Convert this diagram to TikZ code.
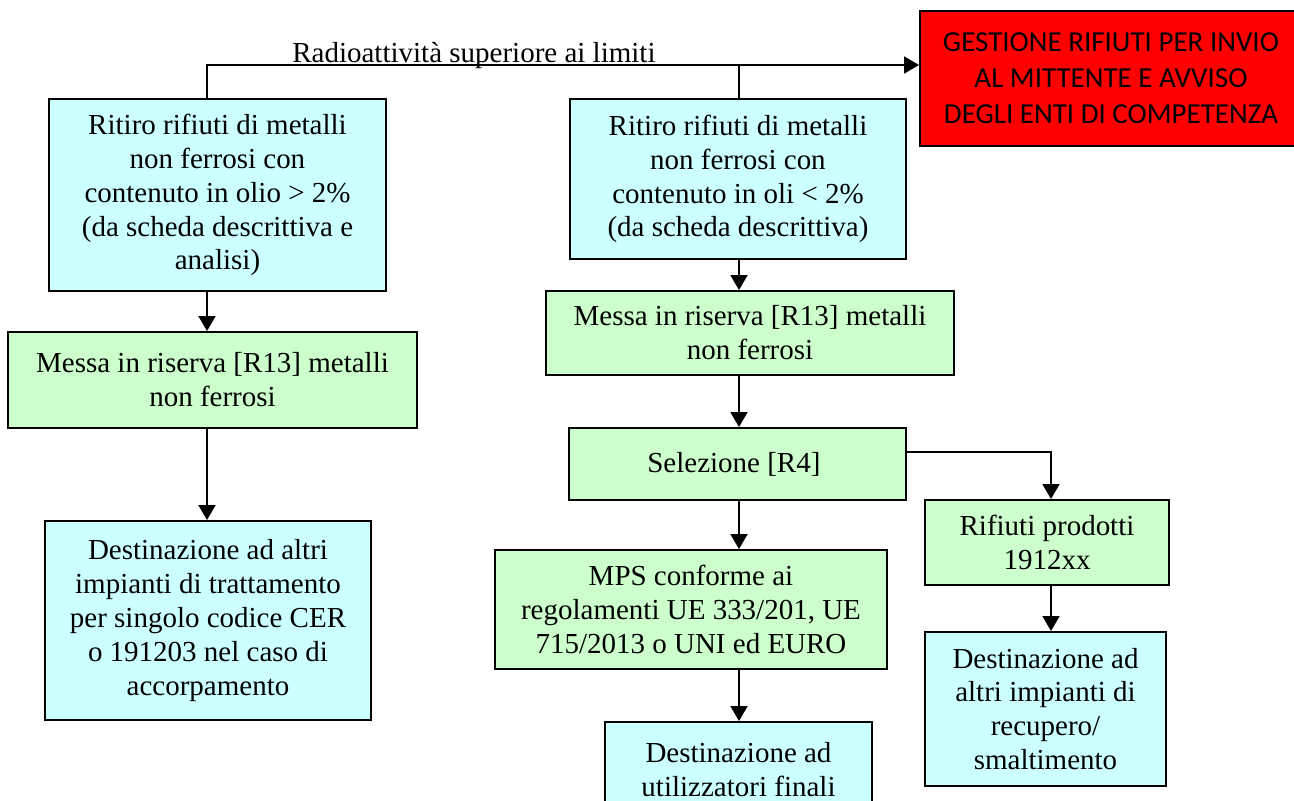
\documentclass[tikz,border=0pt]{standalone}
\usepackage{fontspec}
\setmainfont{Liberation Serif}
\newfontfamily\calibrifont{Carlito}
\usepackage{tikz}
\usepackage{xcolor}
\usetikzlibrary{arrows.meta}
\definecolor{paleCyan}{HTML}{CCFFFF}
\definecolor{paleGreen}{HTML}{CCFFCC}
\definecolor{alarmRed}{HTML}{FF0000}

\tikzset{
  flowbox/.style={draw=black, line width=1.1pt, inner sep=0pt, align=center,
    font=\fontsize{16.5}{19.3}\selectfont},
  cyanbox/.style={flowbox, fill=paleCyan},
  greenbox/.style={flowbox, fill=paleGreen},
  redbox/.style={flowbox, fill=alarmRed, font=\calibrifont\fontsize{16.5}{20.4}\selectfont},
  arr/.style={line width=1.1pt, -{Triangle[length=0.3cm, width=0.34cm]}},
  plainline/.style={line width=1.1pt}
}

\begin{document}
\begin{tikzpicture}
                \clip (0,0) rectangle (25.88,-16.02);
                % colonne dei connettori
                \coordinate (colL) at (4.14,0);
                \coordinate (colR) at (14.78,0);
                \coordinate (colF) at (21.02,0);
                \coordinate (bus) at (0,-1.30);
                \coordinate (selout) at (0,-9.04);

                \node[cyanbox, minimum width=6.74cm, minimum height=3.84cm] (ritiroOlio) at (4.35,-3.90) {
                    Ritiro rifiuti di metalli\\ non ferrosi con\\ contenuto in olio > 2\%\\ (da scheda descrittiva e\\ analisi)
                };
                \node[greenbox, minimum width=8.18cm, minimum height=1.92cm] (riservaL) at (4.25,-7.60) {
                    Messa in riserva [R13] metalli\\ non ferrosi
                };
                \node[cyanbox, minimum width=6.52cm, minimum height=3.98cm] (destTratt) at (4.16,-12.41) {
                    Destinazione ad altri\\ impianti di trattamento\\ per singolo codice CER\\ o 191203 nel caso di\\ accorpamento
                };
                \node[cyanbox, minimum width=6.72cm, minimum height=3.20cm] (ritiroOli) at (14.76,-3.58) {
                    Ritiro rifiuti di metalli\\ non ferrosi con\\ contenuto in oli < 2\%\\ (da scheda descrittiva)
                };
                \node[greenbox, minimum width=8.16cm, minimum height=1.68cm] (riservaR) at (15.00,-6.66) {
                    Messa in riserva [R13] metalli\\ non ferrosi
                };
                \node[greenbox, minimum width=6.74cm, minimum height=1.44cm] (selezione) at (14.75,-9.28) {
                    Selezione [R4]
                };
                \node[greenbox, minimum width=7.84cm, minimum height=2.38cm] (mps) at (13.82,-12.19) {
                    MPS conforme ai\\ regolamenti UE 333/201, UE\\ 715/2013 o UNI ed EURO
                };
                \node[greenbox, minimum width=4.88cm, minimum height=1.70cm] (rifProdotti) at (20.94,-10.85) {
                    Rifiuti prodotti\\ 1912xx
                };
                \node[cyanbox, minimum width=5.34cm, minimum height=1.90cm] (destFinali) at (14.77,-15.39) {
                    Destinazione ad\\ utilizzatori finali
                };
                \node[cyanbox, minimum width=4.82cm, minimum height=3.08cm] (destRecupero) at (20.91,-14.18) {
                    Destinazione ad\\ altri impianti di\\ recupero/\\ smaltimento
                };
                \node[redbox, minimum width=7.64cm, minimum height=2.70cm] (gestione) at (22.22,-1.57) {
                    GESTIONE RIFIUTI PER INVIO\\ AL MITTENTE E AVVISO\\ DEGLI ENTI DI COMPETENZA
                };
                \node[anchor=base west, inner sep=0pt, font=\fontsize{16.5}{19.3}\selectfont] (radLabel) at (5.84,-1.24) {Radioattività superiore ai limiti};

                % connettori
                \draw[arr] (ritiroOlio.north -| colL) |- (gestione.west |- bus);
                \draw[plainline] (ritiroOli.north -| colR) -- (colR |- bus);
                \draw[arr] (ritiroOlio.south -| colL) -- (riservaL.north -| colL);
                \draw[arr] (riservaL.south -| colL) -- (destTratt.north -| colL);
                \draw[arr] (ritiroOli.south -| colR) -- (riservaR.north -| colR);
                \draw[arr] (riservaR.south -| colR) -- (selezione.north -| colR);
                \draw[arr] (selezione.south -| colR) -- (mps.north -| colR);
                \draw[arr] (mps.south -| colR) -- (destFinali.north -| colR);
                \draw[arr] (selezione.east |- selout) -| (rifProdotti.north -| colF);
                \draw[arr] (rifProdotti.south -| colF) -- (destRecupero.north -| colF);
            \end{tikzpicture}
\end{document}
